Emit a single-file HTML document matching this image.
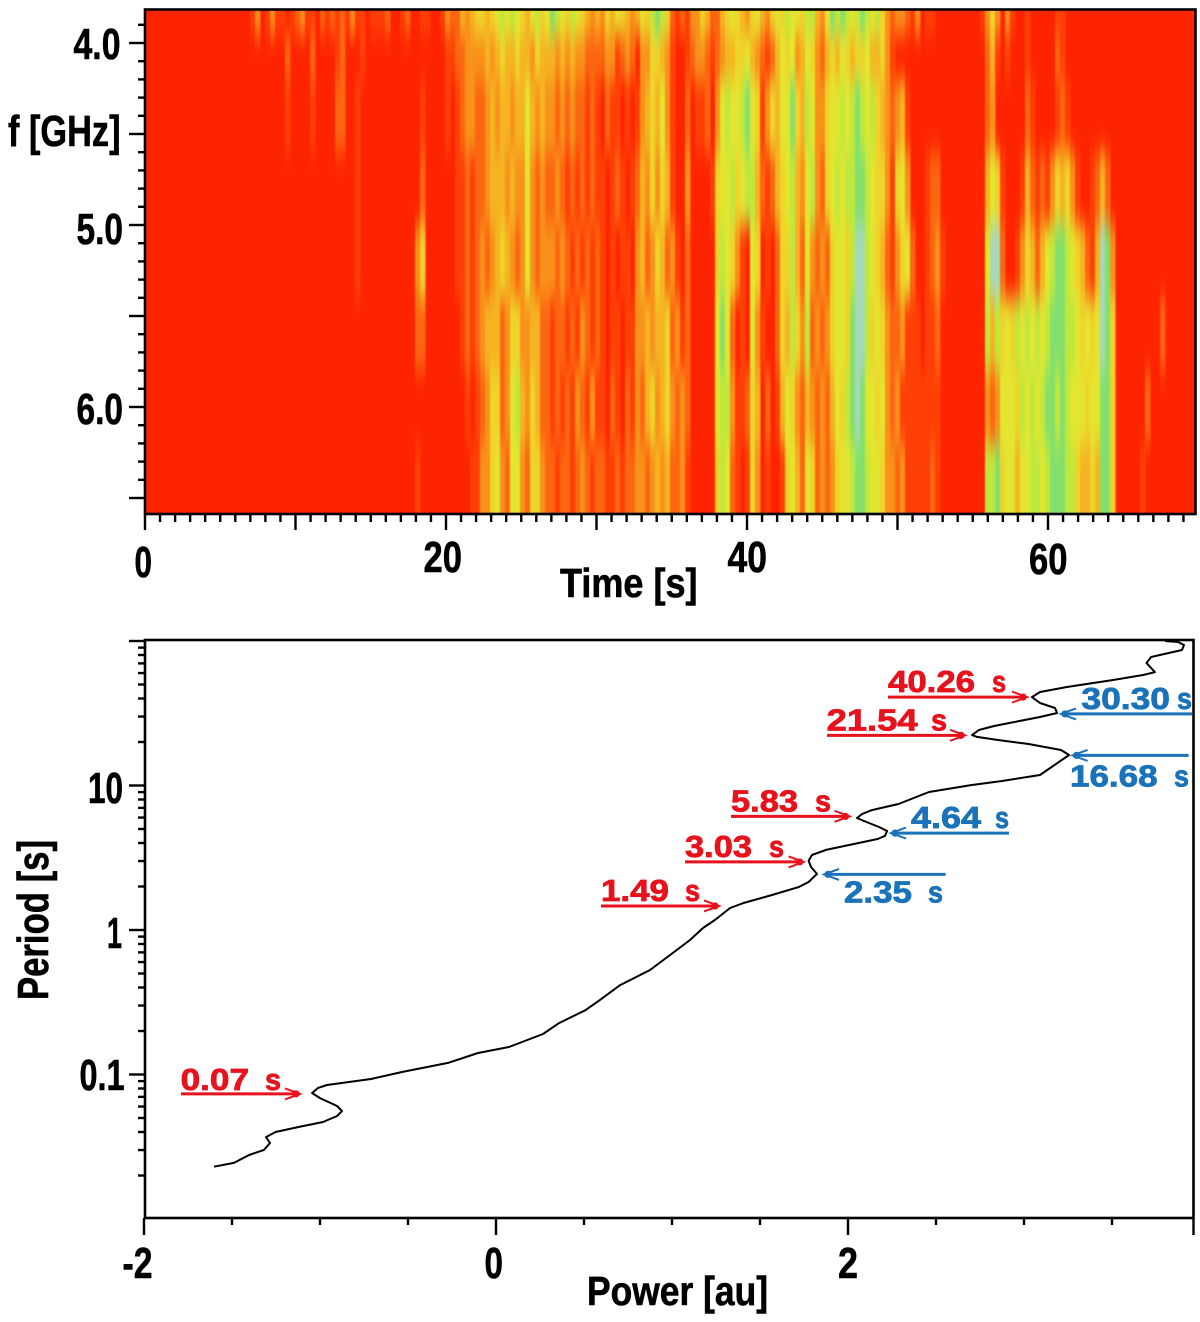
<!DOCTYPE html>
<html lang="en">
<head>
<meta charset="utf-8">
<title>Spectrogram and power spectrum</title>
<style>
html,body{margin:0;padding:0;background:#fff}
svg{display:block}
text{font-family:"Liberation Sans",sans-serif;font-weight:bold;fill:#000;stroke:#000;stroke-width:.6}
.note{stroke-width:.8}
</style>
</head>
<body>
<svg id="figure" width="1200" height="1322" viewBox="0 0 1200 1322" xmlns="http://www.w3.org/2000/svg">
  <defs>
    <clipPath id="heatClip"><rect x="145" y="9" width="1050" height="505"/></clipPath>
    <filter id="smear" filterUnits="userSpaceOnUse" x="100" y="-40" width="1150" height="600" color-interpolation-filters="sRGB">
      <feGaussianBlur stdDeviation="0.7 13"/>
    </filter>
  </defs>

  <g id="spectrogram-panel">
    <rect x="145" y="9" width="1050" height="505" fill="#ff2400"/>
    <g clip-path="url(#heatClip)">
      <g id="heatCells" filter="url(#smear)" shape-rendering="crispEdges"></g>
    </g>
    <rect x="145" y="9.5" width="1050.5" height="504.5" fill="none" stroke="#000" stroke-width="2.6"/>
    <g id="topTicks" stroke="#000" stroke-width="2.4"></g>

    <text x="73.5" y="59" font-size="44" textLength="47" lengthAdjust="spacingAndGlyphs">4.0</text>
    <text x="8" y="146" font-size="44" textLength="112.5" lengthAdjust="spacingAndGlyphs">f [GHz]</text>
    <text x="76.5" y="244" font-size="44" textLength="46.5" lengthAdjust="spacingAndGlyphs">5.0</text>
    <text x="76.5" y="424" font-size="44" textLength="46.5" lengthAdjust="spacingAndGlyphs">6.0</text>
    <text x="134.5" y="577" font-size="44" textLength="17.5" lengthAdjust="spacingAndGlyphs">0</text>
    <text x="423.5" y="572" font-size="44" textLength="38.5" lengthAdjust="spacingAndGlyphs">20</text>
    <text x="727.5" y="572" font-size="44" textLength="39.5" lengthAdjust="spacingAndGlyphs">40</text>
    <text x="1029" y="574" font-size="44" textLength="38.5" lengthAdjust="spacingAndGlyphs">60</text>
    <text x="560" y="597" font-size="41" textLength="137.5" lengthAdjust="spacingAndGlyphs">Time [s]</text>
  </g>

  <g id="power-panel">
    <rect x="145" y="640" width="1048.5" height="578" fill="none" stroke="#000" stroke-width="2.6"/>
    <g id="bottomTicks" stroke="#000" stroke-width="2.4"></g>
    <line x1="1193.5" y1="1218" x2="1193.5" y2="1235" stroke="#000" stroke-width="2.4"/>
    <polyline id="powerCurve" fill="none" stroke="#000" stroke-width="2" stroke-linejoin="round"/>
    <g id="peakNotes"></g>

    <text x="88" y="803" font-size="44" textLength="35" lengthAdjust="spacingAndGlyphs">10</text>
    <text x="107" y="948" font-size="44" textLength="15" lengthAdjust="spacingAndGlyphs">1</text>
    <text x="79.5" y="1090" font-size="44" textLength="45" lengthAdjust="spacingAndGlyphs">0.1</text>
    <text transform="translate(48 1000) rotate(-90)" x="0" y="0" font-size="44" textLength="160" lengthAdjust="spacingAndGlyphs">Period [s]</text>
    <text x="122.5" y="1278" font-size="44" textLength="30" lengthAdjust="spacingAndGlyphs">-2</text>
    <text x="484.5" y="1278" font-size="44" textLength="18.5" lengthAdjust="spacingAndGlyphs">0</text>
    <text x="838" y="1278" font-size="44" textLength="20" lengthAdjust="spacingAndGlyphs">2</text>
    <text x="587" y="1305" font-size="41" textLength="181" lengthAdjust="spacingAndGlyphs">Power [au]</text>
  </g>
</svg>

<script>
const frequencyEdgesGHz = [3.8, 3.95, 4.2, 4.6, 5.0, 5.4, 5.8, 6.2, 6.6];
const timeBinSeconds = 0.3322;

const levelColors = ["#ff2400","#ff4006","#fb6610","#f8921a","#f5b422","#efd42a","#e3e630","#bfe83e","#84e06c","#a6d8bc"];

const heatRow0 = ["000000000000000000000","1301311012","3110212121","3110111200","1200110013","224345",
  "545676765467","568765765434",
  "354654","346578","752121","33542",
  "245654","356435","65",
  "766577","436878","767876","753233","2",
  "130110","000000","001",
  "353031","001000","001100","000000","00",
  "0000000000000000"].join("");
const heatRow1 = ["0000000000","0000000000","00000000","2","0000","2","0000","12","000","1","0000000000","000000","1122333",
  "343454454435","444343433222",
  "233123","203355","431001","23321",
  "234455","643212","46",
  "563465","324546","545564","453100","0",
  "000000","000000","000",
  "241010","001000","002100","000000","00",
  "0000000000000000"].join("");
const heatRow2 = ["0000000000","0000000000","00000000","1","0000","1","0000","22","00","1","000000000000","1","0000","1012332",
  "234344","344643","433232","322121",
  "021101","013454","631002","01120",
  "367667","865135","46",
  "685476","335667","678767","543234","1",
  "000000","000000","000",
  "230000","002100","001210","000000","00",
  "0000000000000000"].join("");
const heatRow3 = ["0000000000","0000000000","0000000000","0000000000","00","1","000000000000","2","000000","11212",
  "234443","433632","322321","212121",
  "101210","124353","541003","00001",
  "566756","774212","45",
  "674367","325676","778876","553156","3",
  "000122","000000","000",
  "465100","014212","135453","100124","20",
  "0000000000000000"].join("");
const heatRow4 = ["0000000000","0000000000","0000000000","0000000000","00","1","00000000000","35","000000","11212",
  "323454","323632","333232","121212",
  "101011","034235","423102","00000",
  "576531","065010","25",
  "574263","232566","579976","542135","6",
  "200123","100000","000",
  "699200","135424","678876","542149","83",
  "0000000000000000"].join("");
const heatRow5 = ["0000000000","0000000000","0000000000","0000000000","0000000000","0000","22","000000","01212",
  "344423","553344","221221","213212",
  "101101","133434","452312","00000",
  "686201","063100","25",
  "475372","323566","589975","653223","1",
  "110112","000000","000",
  "747565","767676","788877","656569","85",
  "0000000002000000"].join("");
const heatRow6 = ["0000000000","0000000000","0000000000","0000000000","0000000000","0000000000","00","00101",
  "235523","674354","221212","132131",
  "102102","132453","453232","00000",
  "677311","254020","14",
  "653243","232465","789866","563231","1",
  "111111","000000","000",
  "323666","576767","887876","665668","85",
  "0000002000000000"].join("");
const heatRow7 = ["0000000000","0000000000","0000000000","0000000000","0000000000","0000","1","0000000","00011",
  "335632","663255","322122","123212",
  "211212","233234","342231","00000",
  "576210","153010","01",
  "564265","232356","678876","653323","1",
  "111121","000000","000",
  "778566","466776","788877","544548","85",
  "0000010000000000"].join("");
const heatRows = [heatRow0, heatRow1, heatRow2, heatRow3, heatRow4, heatRow5, heatRow6, heatRow7];

const timeMajorTicks = [0, 10, 20, 30, 40, 50, 60];
const timeMinorTicks = [1,2,3,4,5,6,7,8,9,11,12,13,14,15,16,17,18,19,21,22,23,24,25,26,27,28,29,31,32,33,34,35,36,37,38,39,41,42,43,44,45,46,47,48,49,51,52,53,54,55,56,57,58,59,61,62,63,64,65,66,67,68,69];
const freqMajorTicks = [4.0, 4.5, 5.0, 5.5, 6.0, 6.5];
const freqMinorTicks = [3.9,4.1,4.2,4.3,4.4,4.6,4.7,4.8,4.9,5.1,5.2,5.3,5.4,5.6,5.7,5.8,5.9,6.1,6.2,6.3,6.4];

const powerMajorTicks = [-2, 0, 2];
const powerMinorTicks = [-1.5,-1,-0.5,0.5,1,1.5,2.5,3,3.5];
const periodMajorTicks = [0.1, 1, 10, 100];
const periodMinorTicks = [0.02,0.03,0.04,0.05,0.06,0.07,0.08,0.09,0.2,0.3,0.4,0.5,0.6,0.7,0.8,0.9,2,3,4,5,6,7,8,9,20,30,40,50,60,70,80,90];

const curvePower = [-1.602,-1.489,-1.403,-1.318,-1.284,-1.307,-1.253,-1.122,-0.983,-0.903,-0.875,-0.903,-1.000,-1.045,-1.011,-0.960,-0.710,-0.534,-0.273,-0.102,0.074,0.267,0.358,0.509,0.591,0.705,0.875,0.989,1.102,1.176,1.244,1.330,1.406,1.568,1.722,1.776,1.824,1.790,1.776,1.795,1.875,2.006,2.168,2.210,2.222,2.176,2.091,2.051,2.080,2.136,2.287,2.460,2.699,2.875,3.091,3.157,3.256,3.210,3.026,2.852,2.733,2.705,2.744,2.830,3.091,3.188,3.176,3.091,3.045,3.091,3.244,3.506,3.676,3.744,3.696,3.722,3.898,3.909,3.875,3.801];
const curveLogPeriod = [-1.638,-1.612,-1.557,-1.522,-1.474,-1.433,-1.398,-1.363,-1.329,-1.287,-1.253,-1.218,-1.163,-1.128,-1.093,-1.073,-1.031,-0.983,-0.920,-0.851,-0.810,-0.720,-0.644,-0.554,-0.484,-0.381,-0.277,-0.173,-0.069,0.014,0.069,0.152,0.187,0.242,0.298,0.332,0.388,0.436,0.478,0.519,0.554,0.588,0.630,0.651,0.685,0.713,0.754,0.775,0.803,0.830,0.872,0.955,1.003,1.031,1.073,1.128,1.211,1.246,1.287,1.315,1.336,1.349,1.384,1.412,1.474,1.502,1.536,1.571,1.612,1.647,1.682,1.730,1.765,1.785,1.848,1.889,1.938,1.972,1.993,2.000];

const redPeriods = [40.26, 21.54, 5.83, 3.03, 1.49, 0.07];
const bluePeriods = [30.30, 16.68, 4.64, 2.35];

/* annotation placement (kept apart from the data values) */
const redPlacement = [
  {tail:888, tip:1027, n0:888, n1:975, s0:992, s1:1006, dy:-1, text:-5},
  {tail:827, tip:965, n0:826.6, n1:917.6, s0:931, s1:947, dy:-2, text:-5},
  {tail:731, tip:849.5, n0:731, n1:798, s0:815, s1:831, dy:-3, text:-5},
  {tail:685, tip:803.6, n0:685, n1:752, s0:769, s1:784, dy:1.5, text:-5},
  {tail:601, tip:719, n0:601, n1:669, s0:685, s1:700, dy:1, text:-5},
  {tail:181, tip:300, n0:180.6, n1:249, s0:265, s1:281, dy:-3, text:-4}
];
const bluePlacement = [
  {tail:1192, tip:1061, n0:1081.4, n1:1170, s0:1177, s1:1192, dy:-2, text:-5},
  {tail:1188.6, tip:1072.6, n0:1070, n1:1157.6, s0:1174, s1:1189, dy:2, text:31},
  {tail:1009, tip:891, n0:911, n1:981, s0:995, s1:1009, dy:-0.6, text:-5},
  {tail:945.6, tip:824, n0:844, n1:912, s0:928, s1:943, dy:-2, text:28}
];

const SVG_NS = "http://www.w3.org/2000/svg";
function xTime(t){ return 145 + 15.05 * t; }
function yFreq(f){ return 43 + 182 * (f - 4); }
function xPower(p){ return 496 + 176 * p; }
function yLogPeriod(l){ return 930 - 144.5 * l; }
function yPeriod(v){ return yLogPeriod(Math.log10(v)); }

function make(tag, attrs, parent){
  const el = document.createElementNS(SVG_NS, tag);
  for (const k in attrs) el.setAttribute(k, attrs[k]);
  parent.appendChild(el);
  return el;
}

/* spectrogram cells */
const heatGroup = document.getElementById("heatCells");
heatRows.forEach(function(row, r){
  const y0 = yFreq(frequencyEdgesGHz[r]) - (r === 0 ? 60 : 0);
  const y1 = yFreq(frequencyEdgesGHz[r + 1]) + (r === heatRows.length - 1 ? 60 : 0);
  for (let i = 0; i < row.length; i++) {
    const level = Number(row[i]);
    if (level === 0) continue;
    const x0 = xTime(i * timeBinSeconds);
    const x1 = xTime((i + 1) * timeBinSeconds);
    const cell = make("rect", {x: x0, y: y0, width: x1 - x0 + 0.4, height: y1 - y0, fill: levelColors[level]}, heatGroup);
    
    
  }
});

/* spectrogram ticks */
const topTicks = document.getElementById("topTicks");
timeMajorTicks.forEach(function(t){
  const tick = make("line", {x1: xTime(t), x2: xTime(t), y1: 514, y2: 530}, topTicks);
  
  
});
timeMinorTicks.forEach(function(t){
  const tick = make("line", {x1: xTime(t), x2: xTime(t), y1: 514, y2: 522}, topTicks);
  
  
});
freqMajorTicks.forEach(function(f){
  const tick = make("line", {x1: 129, x2: 145, y1: yFreq(f), y2: yFreq(f)}, topTicks);
  
  
});
freqMinorTicks.forEach(function(f){
  const tick = make("line", {x1: 138, x2: 145, y1: yFreq(f), y2: yFreq(f)}, topTicks);
  
  
});

/* power spectrum ticks */
const bottomTicks = document.getElementById("bottomTicks");
powerMajorTicks.forEach(function(p){
  const tick = make("line", {x1: xPower(p), x2: xPower(p), y1: 1218, y2: 1235}, bottomTicks);
  
  
});
powerMinorTicks.forEach(function(p){
  const tick = make("line", {x1: xPower(p), x2: xPower(p), y1: 1218, y2: 1225}, bottomTicks);
  
  
});
periodMajorTicks.forEach(function(v){
  const tick = make("line", {x1: 129, x2: 145, y1: yPeriod(v), y2: yPeriod(v)}, bottomTicks);
  
  
});
periodMinorTicks.forEach(function(v){
  const tick = make("line", {x1: 138, x2: 145, y1: yPeriod(v), y2: yPeriod(v)}, bottomTicks);
  
  
});

/* curve */
document.getElementById("powerCurve").setAttribute("points",
  curvePower.map(function(p, i){ return xPower(p).toFixed(1) + "," + yLogPeriod(curveLogPeriod[i]).toFixed(1); }).join(" "));

/* peak annotations */
const notes = document.getElementById("peakNotes");
function drawPeak(period, place, color, kind){
  const g = make("g", {}, notes);
  
  
  const y = yPeriod(period) + place.dy;
  const dir = place.tip > place.tail ? 1 : -1;
  make("line", {x1: place.tail, x2: place.tip - dir * 3, y1: y, y2: y, stroke: color, "stroke-width": 3}, g);
  make("polyline", {points: (place.tip - dir * 15) + "," + (y - 5.5) + " " + place.tip + "," + y + " " + (place.tip - dir * 15) + "," + (y + 5.5),
    fill: "none", stroke: color, "stroke-width": 2}, g);
  make("circle", {cx: place.tip - dir * 4, cy: y, r: 3.6, fill: color}, g);
  const label = make("text", {y: y + place.text, "font-size": 31, "class": "note", style: "fill:" + color + ";stroke:" + color}, g);
  const digits = make("tspan", {x: place.n0, textLength: place.n1 - place.n0, lengthAdjust: "spacingAndGlyphs"}, label);
  digits.textContent = period.toFixed(2);
  label.appendChild(document.createTextNode(" "));
  const unit = make("tspan", {x: place.s0, textLength: place.s1 - place.s0, lengthAdjust: "spacingAndGlyphs"}, label);
  unit.textContent = "s";
}
redPeriods.forEach(function(v, i){ drawPeak(v, redPlacement[i], "#e8121c", "red"); });
bluePeriods.forEach(function(v, i){ drawPeak(v, bluePlacement[i], "#1a72ba", "blue"); });
</script>
</body>
</html>
